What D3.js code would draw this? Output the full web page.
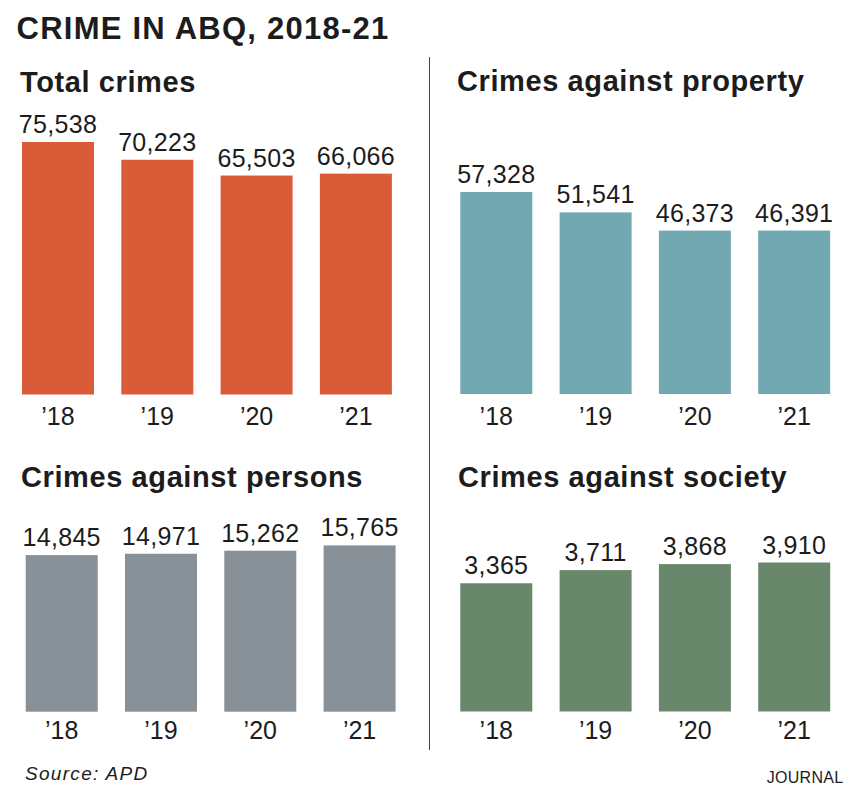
<!DOCTYPE html>
<html>
<head>
<meta charset="utf-8">
<script src="https://cdn.jsdelivr.net/npm/d3@7"></script>
<style>
  html, body { margin: 0; padding: 0; background: #fff; }
  svg { display: block; }
  text { font-family: "Liberation Sans", Arial, Helvetica, sans-serif; fill: #1c1c1c; }
</style>
</head>
<body>
<svg id="chart" width="850" height="790"></svg>
<script>
// ---- Data ----
const years = ["’18", "’19", "’20", "’21"];
const totalCrimes = [75538, 70223, 65503, 66066];
const propertyCrimes = [57328, 51541, 46373, 46391];
const personsCrimes = [14845, 14971, 15262, 15765];
const societyCrimes = [3365, 3711, 3868, 3910];
const panelTitles = ["Total crimes", "Crimes against property", "Crimes against persons", "Crimes against society"];
const chartTitle = "CRIME IN ABQ, 2018-21";
const sourceText = "Source: APD";
const creditText = "JOURNAL";

// ---- Layout / style ----
const colors = ["#D95B37", "#72A8B2", "#889098", "#69876A"];
const panels = [
  { values: totalCrimes,    title: panelTitles[0], color: colors[0], titleX: 20,  titleY: 91.5, barStart: 22,    bottom: 394.5, maxH: 252.5, yearGap: 30 },
  { values: propertyCrimes, title: panelTitles[1], color: colors[1], titleX: 457, titleY: 90.7, barStart: 460.3, bottom: 394,   maxH: 202,   yearGap: 30.5 },
  { values: personsCrimes,  title: panelTitles[2], color: colors[2], titleX: 21,  titleY: 486.7, barStart: 25.7, bottom: 711.7, maxH: 166.3, yearGap: 27 },
  { values: societyCrimes,  title: panelTitles[3], color: colors[3], titleX: 458, titleY: 486.7, barStart: 460.3, bottom: 711.5, maxH: 149,  yearGap: 27 }
];
const step = 99.3, barW = 72;
const padIn = (step - barW) / step;

const svg = d3.select("#chart");

svg.append("text")
  .attr("x", 16.5).attr("y", 39.3)
  .attr("font-size", 31).attr("font-weight", "bold")
  .attr("letter-spacing", 1.25)
  .text(chartTitle);

// divider
svg.append("line")
  .attr("x1", 429.5).attr("x2", 429.5)
  .attr("y1", 57).attr("y2", 750)
  .attr("stroke", "#444").attr("stroke-width", 1);

const fmt = d3.format(",");

panels.forEach(p => {
  const g = svg.append("g");
  const x0 = p.barStart - step * padIn / 2;
  const x = d3.scaleBand().domain(years).range([x0, x0 + step * years.length])
    .paddingInner(padIn).paddingOuter(padIn / 2);
  const y = d3.scaleLinear().domain([0, d3.max(p.values)]).range([p.bottom, p.bottom - p.maxH]);
  const data = years.map((yr, i) => ({ yr, v: p.values[i] }));

  g.append("text")
    .attr("x", p.titleX).attr("y", p.titleY)
    .attr("font-size", 29).attr("font-weight", "bold")
    .attr("letter-spacing", 0.6)
    .text(p.title);

  g.selectAll("rect").data(data).join("rect")
    .attr("x", d => x(d.yr)).attr("width", x.bandwidth())
    .attr("y", d => y(d.v)).attr("height", d => p.bottom - y(d.v))
    .attr("fill", p.color);

  g.selectAll("text.val").data(data).join("text")
    .attr("class", "val")
    .attr("x", d => x(d.yr) + x.bandwidth() / 2)
    .attr("y", d => y(d.v) - 9)
    .attr("text-anchor", "middle")
    .attr("font-size", 25).attr("letter-spacing", 0.3)
    .text(d => fmt(d.v));

  const axis = d3.axisBottom(x).tickSize(0).tickPadding(0);
  const ax = g.append("g").attr("transform", `translate(0,${p.bottom})`).call(axis);
  ax.select(".domain").remove();
  ax.selectAll("text")
    .attr("y", p.yearGap).attr("dy", 0)
    .attr("font-size", 25)
    .attr("font-family", "Liberation Sans, Arial, sans-serif")
    .attr("fill", "#1c1c1c");
});

svg.append("text")
  .attr("x", 25).attr("y", 780)
  .attr("font-size", 19).attr("font-style", "italic")
  .attr("letter-spacing", 1.3)
  .attr("fill", "#222")
  .text(sourceText);

svg.append("text")
  .attr("x", 843.5).attr("y", 783.3)
  .attr("text-anchor", "end")
  .attr("font-size", 16).attr("letter-spacing", 0.3)
  .attr("fill", "#333")
  .text(creditText);
</script>
</body>
</html>
